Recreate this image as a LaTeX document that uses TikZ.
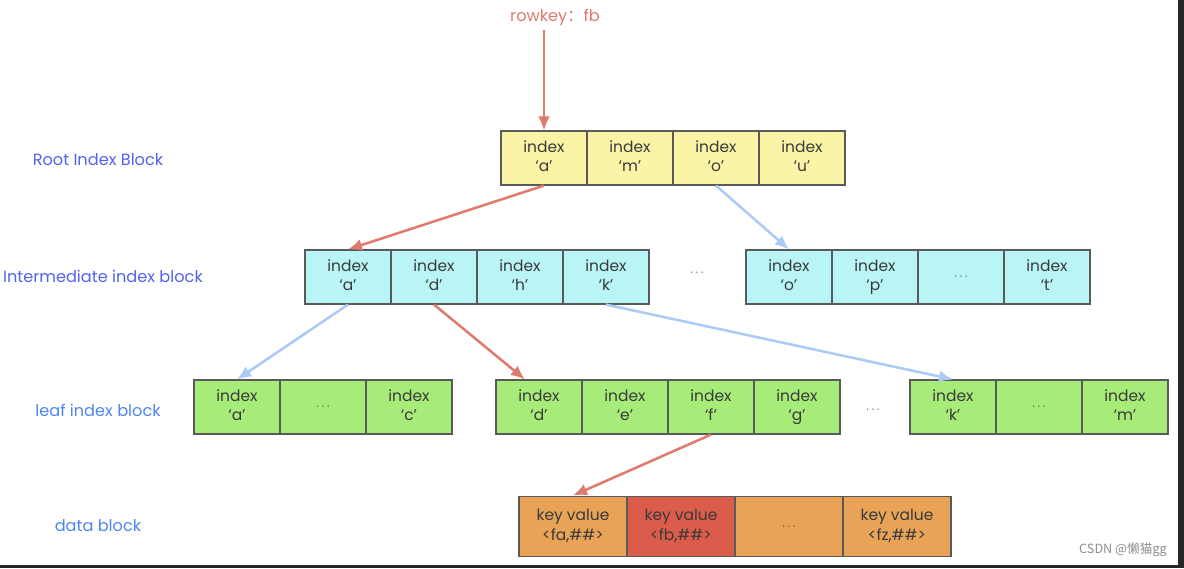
\documentclass[tikz,border=0pt]{standalone}
\usepackage{fontspec}
\setmainfont{Poppins}
\newfontfamily\cjk{Noto Sans CJK SC}
\usetikzlibrary{arrows.meta}
\definecolor{rootfill}{HTML}{FAF5A6}
\definecolor{interfill}{HTML}{B9F5F7}
\definecolor{leaffill}{HTML}{A7EB79}
\definecolor{datafill}{HTML}{E8A357}
\definecolor{hitfill}{HTML}{DC5C4B}
\definecolor{cellline}{HTML}{5A5A5A}
\definecolor{celltext}{HTML}{3A3A3A}
\definecolor{hitline}{HTML}{E07A6E}
\definecolor{missline}{HTML}{A9CBF5}
\definecolor{lvlblue}{HTML}{5262F0}
\definecolor{lvllight}{HTML}{4D86F2}
\newcommand{\idx}[1]{\strut index\\\strut`#1'}
\newcommand{\kv}[1]{\strut key value\\\strut<#1,\#\#>}
\newcommand{\etc}{{\footnotesize$\cdots$}}
\tikzset{
    cell/.style={draw=cellline, line width=0.8pt, minimum width=2.15cm, minimum height=1.35cm,
        inner sep=0pt, align=center, text=celltext, font=\fontsize{11}{14}\selectfont},
    datacell/.style={cell, minimum width=2.7cm, minimum height=1.52cm},
    level/.style={font=\fontsize{11.5}{13}\selectfont},
    hit/.style={->, draw=hitline, line width=1.8pt},
    miss/.style={->, draw=missline, line width=1.8pt},
}
\begin{document}
\begin{tikzpicture}[>={Latex[length=10pt,width=8.5pt]}, x=0.025cm, y=-0.025cm]
\useasboundingbox (0,0) rectangle (1184,568);
\fill[black!85] (1178,0) rectangle (1184,568);
\fill[black!85] (0,565) rectangle (1184,568);
% level names
\node[level, text=lvlblue] (lroot) at (98,160) {Root Index Block};
\node[level, text=lvlblue] (linter) at (103,276) {Intermediate index block};
\node[level, text=lvllight] (lleaf) at (98,410) {leaf index block};
\node[level, text=lvllight] (ldata) at (98,526) {data block};
\node[level, text=hitline] (rowkey) at (555,17) {rowkey{\cjk：}fb};
% root block
\foreach \t [count=\i] in {\idx{a},\idx{m},\idx{o},\idx{u}}
{
    \node[cell, fill=rootfill] (root\i) at ({458+86*\i},158) {\t};
}
% intermediate blocks
\foreach \t [count=\i] in {\idx{a},\idx{d},\idx{h},\idx{k}}
{
    \node[cell, fill=interfill] (inter\i) at ({262+86*\i},277) {\t};
}
\node[cell, draw=none] (dotsI) at (697,273) {\etc};
\foreach \t [count=\i] in {\idx{o},\idx{p},\etc,\idx{t}}
{
    \node[cell, fill=interfill] (interR\i) at ({703+86*\i},277) {\t};
}
% leaf blocks
\foreach \t [count=\i] in {\idx{a},\etc,\idx{c}}
{
    \node[cell, fill=leaffill] (leafA\i) at ({151+86*\i},407) {\t};
}
\foreach \t [count=\i] in {\idx{d},\idx{e},\idx{f},\idx{g}}
{
    \node[cell, fill=leaffill] (leafB\i) at ({453+86*\i},407) {\t};
}
\node[cell, draw=none] (dotsL) at (873,410) {\etc};
\foreach \t [count=\i] in {\idx{k},\etc,\idx{m}}
{
    \node[cell, fill=leaffill] (leafC\i) at ({867+86*\i},407) {\t};
}
% data block
\foreach \t/\c [count=\i] in {{\kv{fa}}/datafill,{\kv{fb}}/hitfill,{\etc}/datafill,{\kv{fz}}/datafill}
{
    \node[datacell, fill=\c] (data\i) at ({465+108*\i},526.5) {\t};
}
% lookup path
\draw[hit] (root1.north |- rowkey.south) -- (root1.north);
\draw[hit] (root1.south) -- (inter1.north);
\draw[miss] (root3.south) -- (interR1.north);
\draw[miss] (inter1.south) -- (leafA1.north);
\draw[hit] (inter2.south) -- ([xshift=-10]leafB1.north);
\draw[miss] (inter4.south) -- (leafC1.north);
\draw[hit] (leafB3.south) -- (data1.north);
% watermark
\node[text=black!45, font=\cjk\fontsize{9}{10}\selectfont] (mark) at (1123,550) {CSDN @懒猫gg};
\end{tikzpicture}
\end{document}
